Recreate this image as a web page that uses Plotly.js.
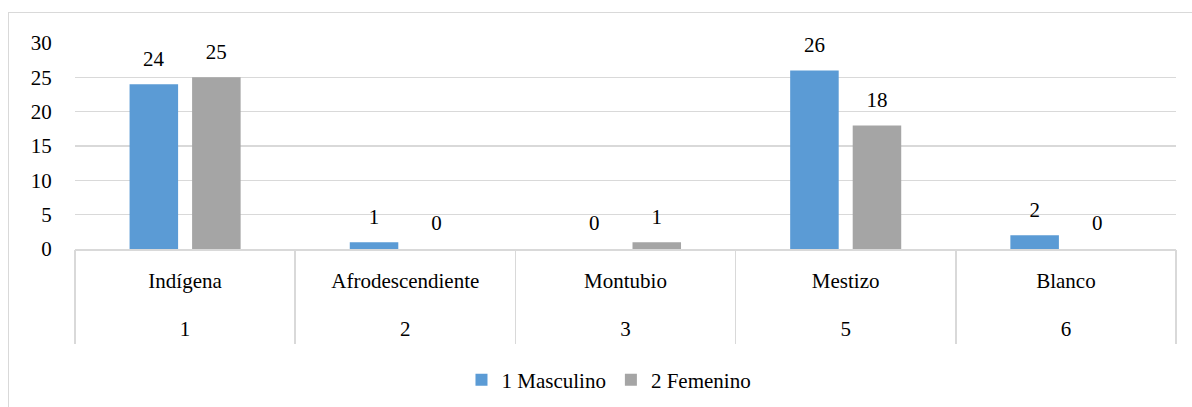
<!DOCTYPE html>
<html>
<head>
<meta charset="utf-8">
<script src="https://cdn.plot.ly/plotly-3.0.1.min.js"></script>
<style>
html,body{margin:0;padding:0;background:#fff;}
#chart{width:1192px;height:407px;}
#chart svg text{font-family:"Times New Roman","Liberation Serif",serif !important;}
#frame{position:absolute;left:8px;top:12px;width:1300px;height:500px;border:1.5px solid #d9d9d9;pointer-events:none;}
#warm{position:absolute;left:-60px;top:0;font-size:21px;font-family:"Times New Roman";}
</style>
</head>
<body>
<span id="warm">&nbsp;</span>
<div id="chart"></div>
<div id="frame"></div>
<script>
var codes = ["1", "2", "3", "5", "6"];
var names = ["Indígena", "Afrodescendiente", "Montubio", "Mestizo", "Blanco"];
var masculino = [24, 1, 0, 26, 2];
var femenino = [25, 0, 1, 18, 0];
var seriesNames = ["1 Masculino", "2 Femenino"];

(function () {
  var FAM = "Times New Roman";
  var labelTpl = "<span style='font-size:21px'>%{y}</span><br><span style='font-size:2px'> </span>";

  var idx = names.map(function (_, i) { return i; });
  var bounds = names.map(function (_, i) { return i - 0.5; }).concat([names.length - 0.5]);

  function makeBar(nm, vals, color) {
    return {type: "bar", name: nm, x: names, y: vals, marker: {color: color},
      text: vals.map(String), texttemplate: labelTpl, textposition: "outside", cliponaxis: false,
      textfont: {family: FAM, size: 12, color: "#000"}, hoverinfo: "y"};
  }
  var traces = [
    makeBar(seriesNames[0], masculino, "#5B9BD5"),
    makeBar(seriesNames[1], femenino, "#A5A5A5"),
    {type: "scatter", mode: "none", x: idx, y: masculino, xaxis: "x2", showlegend: false, hoverinfo: "skip"}
  ];

  var layout = {
    width: 1192, height: 407,
    margin: {l: 75, r: 16, t: 43, b: 158, autoexpand: false},
    paper_bgcolor: "#fff", plot_bgcolor: "#fff",
    font: {family: FAM, size: 21, color: "#000"},
    barmode: "group", bargap: 0.432, bargroupgap: 0.224,
    showlegend: true,
    legend: {orientation: "h", x: 0.485, xanchor: "center", y: -0.636, yanchor: "middle",
             font: {family: FAM, size: 21, color: "#000"}, traceorder: "normal"},
    xaxis: {type: "category", showline: true, linecolor: "#d9d9d9", linewidth: 1.5,
            tickfont: {family: FAM, size: 21, color: "#000"}, showgrid: false, zeroline: false,
            ticks: "", ticklabelstandoff: 12, automargin: false, fixedrange: true},
    xaxis2: {overlaying: "x", side: "bottom", anchor: "y", type: "linear",
             range: [-0.5, names.length - 0.5], tickmode: "array", tickvals: idx, ticktext: codes,
             tickfont: {family: FAM, size: 21, color: "#000"}, showgrid: false, zeroline: false,
             showline: false, ticks: "", ticklabelstandoff: 65, automargin: false, fixedrange: true,
             minor: {tickmode: "array", tickvals: bounds, ticks: "outside", ticklen: 94, tickwidth: 1.5,
                     tickcolor: "#d9d9d9", showgrid: false}},
    yaxis: {range: [0, 30], dtick: 5, tick0: 0, showgrid: true, gridcolor: "#d9d9d9", gridwidth: 1.5,
            zeroline: false, showline: false, ticks: "outside", ticklen: 18, tickcolor: "rgba(0,0,0,0)",
            tickfont: {family: FAM, size: 21, color: "#000"}, automargin: false, fixedrange: true}
  };

  var cfg = {displayModeBar: false, staticPlot: true};
  Plotly.newPlot("chart", traces, layout, cfg);
  if (document.fonts && document.fonts.ready) {
    document.fonts.ready.then(function () { Plotly.react("chart", traces, layout, cfg); });
  }
})();
</script>
</body>
</html>
